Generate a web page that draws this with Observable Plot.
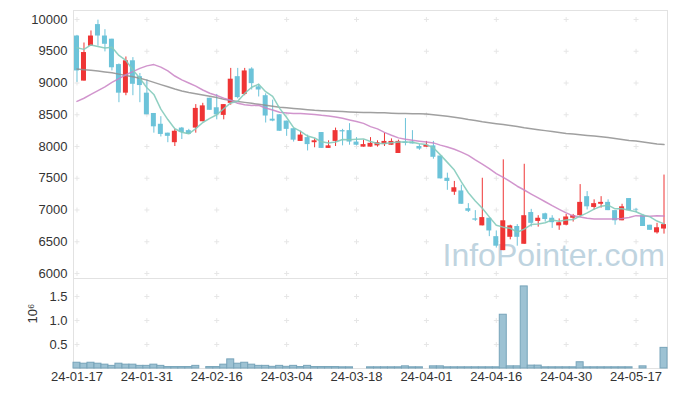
<!DOCTYPE html>
<html>
<head>
<meta charset="utf-8">
<script src="https://cdn.jsdelivr.net/npm/d3@7"></script>
<script src="https://cdn.jsdelivr.net/npm/@observablehq/plot@0.6"></script>
<style>
  html, body { margin: 0; padding: 0; background: #fff; }
  #chart { width: 677px; height: 396px; }
  #chart svg { display: block; }
</style>
</head>
<body>
<div id="chart"></div>
<script>
// ---- data ----
const dates = [
  "24-01-17","24-01-18","24-01-19","24-01-22","24-01-23","24-01-24","24-01-25","24-01-26","24-01-29","24-01-30",
  "24-01-31","24-02-01","24-02-02","24-02-05","24-02-06","24-02-07","24-02-08","24-02-13","24-02-14","24-02-15",
  "24-02-16","24-02-19","24-02-20","24-02-21","24-02-22","24-02-23","24-02-26","24-02-27","24-02-28","24-02-29",
  "24-03-04","24-03-05","24-03-06","24-03-07","24-03-08","24-03-11","24-03-12","24-03-13","24-03-14","24-03-15",
  "24-03-18","24-03-19","24-03-20","24-03-21","24-03-22","24-03-25","24-03-26","24-03-27","24-03-28","24-03-29",
  "24-04-01","24-04-02","24-04-03","24-04-04","24-04-05","24-04-08","24-04-09","24-04-11","24-04-12","24-04-15",
  "24-04-16","24-04-17","24-04-18","24-04-19","24-04-22","24-04-23","24-04-24","24-04-25","24-04-26","24-04-29",
  "24-04-30","24-05-02","24-05-03","24-05-07","24-05-08","24-05-09","24-05-10","24-05-13","24-05-14","24-05-16",
  "24-05-17","24-05-20","24-05-21","24-05-22","24-05-23"
];
const open = [
  9740,9030,9580,9920,9740,9690,9290,8840,9350,9100,
  8840,8520,8350,8210,8060,8290,8250,8290,8390,8760,
  8610,8490,8680,9100,8820,9220,8940,8800,8430,8500,
  8400,8280,8080,8140,8060,8220,7970,8080,8250,8250,
  8070,7990,7990,8010,8030,8020,7890,8070,8070,8000,
  7990,8010,7850,7500,7280,7300,7020,6860,6750,6870,
  6580,6360,6570,6740,6460,6960,6820,6940,6870,6750,
  6760,6870,6910,7210,7040,7090,7120,6990,6830,7180,
  7010,6910,6760,6640,6700
];
const high = [
  9750,9630,9820,9990,9840,9690,9300,9410,9400,9150,
  9050,8520,8470,8210,8270,8300,8270,8660,8680,8760,
  8820,8660,9230,9230,9230,9240,8980,8830,8730,8500,
  8400,8280,8240,8180,8120,8220,8090,8290,8270,8360,
  8140,8100,8140,8090,8210,8120,8100,8440,8250,8030,
  8080,8080,7850,7580,7450,7390,7100,6990,7500,6870,
  6670,7790,6760,6770,7720,7010,6910,6950,6910,6860,
  6930,6930,7400,7290,7160,7210,7160,6990,7090,7180,
  7020,6930,6760,6790,7550
];
const low = [
  9010,9030,9580,9580,9490,9190,8690,8800,8800,8690,
  8500,8210,8150,8060,8000,8110,8190,8210,8390,8570,
  8420,8420,8650,8750,8800,8890,8780,8370,8390,8240,
  8160,8070,8080,7930,7980,7970,7970,8000,8010,8020,
  8010,7990,7990,7990,8000,8020,7890,8010,8040,7940,
  7990,7800,7490,7310,7230,7090,6960,6820,6750,6580,
  6400,6360,6530,6430,6460,6730,6730,6810,6710,6680,
  6750,6810,6890,7000,7000,7030,6990,6760,6830,6990,
  6960,6740,6680,6620,6620
];
const close = [
  9190,9480,9740,9740,9610,9240,8840,9350,8980,8960,
  8500,8310,8190,8160,8240,8220,8190,8600,8640,8570,
  8500,8660,9060,8770,9190,8990,8890,8480,8400,8240,
  8270,8100,8180,8030,8090,7970,8010,8250,8230,8070,
  8020,8030,8050,8060,8080,8080,8080,8050,8040,7960,
  8020,7830,7490,7450,7350,7090,6980,6840,6880,6670,
  6430,6830,6750,6570,6910,6790,6870,6850,6800,6800,
  6890,6910,7120,7050,7100,7120,6990,6830,7050,6990,
  7000,6740,6680,6720,6770
];
const volume = [
  120000,100000,120000,100000,80000,55000,100000,80000,80000,55000,
  55000,80000,55000,30000,30000,30000,30000,55000,0,30000,
  30000,80000,190000,100000,120000,80000,55000,55000,35000,55000,
  35000,55000,30000,55000,30000,30000,30000,30000,25000,25000,
  0,0,25000,25000,25000,25000,25000,45000,25000,25000,
  0,45000,45000,25000,25000,25000,25000,25000,25000,25000,
  25000,1120000,45000,45000,1710000,60000,60000,25000,25000,25000,
  25000,25000,130000,25000,25000,25000,25000,25000,25000,25000,
  0,45000,0,0,430000
];
const ma5 = [
  9555,9530,9600,9575,9552,9562,9434,9356,9204,9074,
  8926,8820,8588,8424,8280,8224,8200,8282,8378,8444,
  8500,8594,8686,8712,8836,8934,8980,8864,8790,8600,
  8456,8298,8238,8164,8134,8074,8056,8070,8110,8106,
  8116,8120,8080,8046,8048,8060,8070,8070,8066,8042,
  8030,7980,7868,7750,7628,7442,7272,7142,7028,6892,
  6760,6730,6712,6650,6698,6770,6778,6798,6844,6822,
  6842,6850,6904,6954,7014,7060,7076,7018,7018,6996,
  6972,6922,6892,6826,6782
];
const ma20 = [
  8710,8760,8820,8880,8940,9010,9070,9130,9180,9230,
  9270,9290,9250,9190,9110,9050,9000,8950,8890,8838,
  8803,8762,8728,8680,8659,8646,8649,8605,8576,8540,
  8529,8518,8518,8511,8504,8491,8482,8465,8444,8419,
  8395,8364,8313,8278,8222,8177,8136,8115,8097,8083,
  8070,8057,8022,7993,7956,7912,7861,7790,7723,7653,
  7573,7513,7448,7374,7315,7251,7190,7130,7068,7010,
  6954,6908,6889,6869,6857,6858,6859,6858,6867,6883,
  6911,6907,6903,6911,6904
];
const ma60 = [
  9220,9210,9200,9190,9175,9160,9140,9120,9100,9075,
  9045,9010,8975,8940,8905,8875,8850,8830,8810,8790,
  8770,8745,8725,8710,8695,8680,8665,8650,8635,8620,
  8610,8600,8590,8580,8570,8565,8560,8555,8550,8545,
  8540,8535,8535,8530,8530,8525,8520,8520,8515,8515,
  8510,8500,8490,8475,8460,8445,8425,8410,8390,8375,
  8360,8345,8330,8315,8295,8280,8265,8250,8235,8220,
  8205,8195,8185,8175,8165,8155,8140,8125,8110,8095,
  8085,8070,8055,8040,8030
];
const xTickLabels = ["24-01-17","24-01-31","24-02-16","24-03-04","24-03-18","24-04-01","24-04-16","24-04-30","24-05-17"];
const priceTicks = [6000,6500,7000,7500,8000,8500,9000,9500,10000];
const volumeTicks = [500000,1000000,1500000];
const volumeLabel = "10⁶";
const watermark = "InfoPointer.com";

// ---- build tables ----
const rows = dates.map((d, i) => ({
  date: d, open: open[i], high: high[i], low: low[i], close: close[i],
  volume: volume[i], ma5: ma5[i], ma20: ma20[i], ma60: ma60[i]
}));
const ups = rows.filter(r => r.close >= r.open);
const downs = rows.filter(r => r.close < r.open);
const volRows = rows.filter(r => r.volume > 0);
const crossPrice = xTickLabels.flatMap(d => priceTicks.map(v => ({date: d, value: v})));
const crossVol = xTickLabels.flatMap(d => volumeTicks.map(v => ({date: d, value: v})));

const RED = "#ef3535";
const BLUE = "#6cc3d9";
const FONT = "'Liberation Sans', Arial, sans-serif";
const cross = {
  draw(ctx) { const r = 2.5; ctx.moveTo(-r, 0); ctx.lineTo(r, 0); ctx.moveTo(0, -r); ctx.lineTo(0, r); }
};
const W = 677;
const xScale = {type: "band", domain: dates, padding: 0};
const baseStyle = {fontFamily: FONT, fontSize: "13px", color: "#333", background: "transparent", overflow: "visible"};

const pricePlot = Plot.plot({
  width: W, height: 278,
  marginLeft: 73, marginRight: 10, marginTop: 10, marginBottom: 0,
  style: baseStyle,
  x: {...xScale, axis: null},
  y: {domain: [5921, 10142]},
  marks: [
    Plot.text([watermark], {text: d => d, frameAnchor: "bottom-left", textAnchor: "start", lineAnchor: "middle",
      dx: 369, dy: -23, fontSize: 32, fill: "#bfd4e0", fontFamily: FONT}),
    Plot.dot(crossPrice, {x: "date", y: "value", symbol: cross, stroke: "#e6e6e6", fill: "none", strokeWidth: 1}),
    Plot.frame({stroke: "#e2e2e2"}),
    Plot.axisY({ticks: priceTicks, tickSize: 0, tickPadding: 6, label: null, tickFormat: d => String(d)}),
    Plot.ruleX(downs, {x: "date", y1: "low", y2: "high", stroke: BLUE, strokeWidth: 1}),
    Plot.barY(downs, {x: "date", y1: "open", y2: "close", fill: BLUE, insetLeft: 1, insetRight: 1}),
    Plot.ruleX(ups, {x: "date", y1: "low", y2: "high", stroke: RED, strokeWidth: 1}),
    Plot.barY(ups, {x: "date", y1: "open", y2: "close", fill: RED, insetLeft: 1, insetRight: 1}),
    Plot.lineY(rows, {x: "date", y: "ma60", stroke: "#8f8f8f", strokeWidth: 1.5, strokeOpacity: 0.85}),
    Plot.lineY(rows, {x: "date", y: "ma20", stroke: "#c983c4", strokeWidth: 1.5, strokeOpacity: 0.85}),
    Plot.lineY(rows, {x: "date", y: "ma5", stroke: "#84cbbb", strokeWidth: 1.5, strokeOpacity: 0.9})
  ]
});

const volumePlot = Plot.plot({
  width: W, height: 118,
  marginLeft: 73, marginRight: 10, marginTop: 0, marginBottom: 28,
  style: baseStyle,
  x: xScale,
  y: {domain: [0, 1875000]},
  marks: [
    Plot.dot(crossVol, {x: "date", y: "value", symbol: cross, stroke: "#e6e6e6", fill: "none", strokeWidth: 1}),
    Plot.frame({stroke: "#e2e2e2"}),
    Plot.barY(volRows, {x: "date", y: "volume", fill: "#9dc2d3", stroke: "#77a4ba", strokeWidth: 1}),
    Plot.axisY({ticks: volumeTicks, tickSize: 0, tickPadding: 6, label: null, tickFormat: d => (d / 1e6).toFixed(1)}),
    Plot.axisX({ticks: xTickLabels, tickSize: 0, tickPadding: 3, label: null}),
    Plot.text([volumeLabel], {text: d => d, frameAnchor: "left", dx: -41, rotate: -90, fontSize: 13, fill: "#333"})
  ]
});

const host = document.getElementById("chart");
host.appendChild(pricePlot);
host.appendChild(volumePlot);
</script>
</body>
</html>
